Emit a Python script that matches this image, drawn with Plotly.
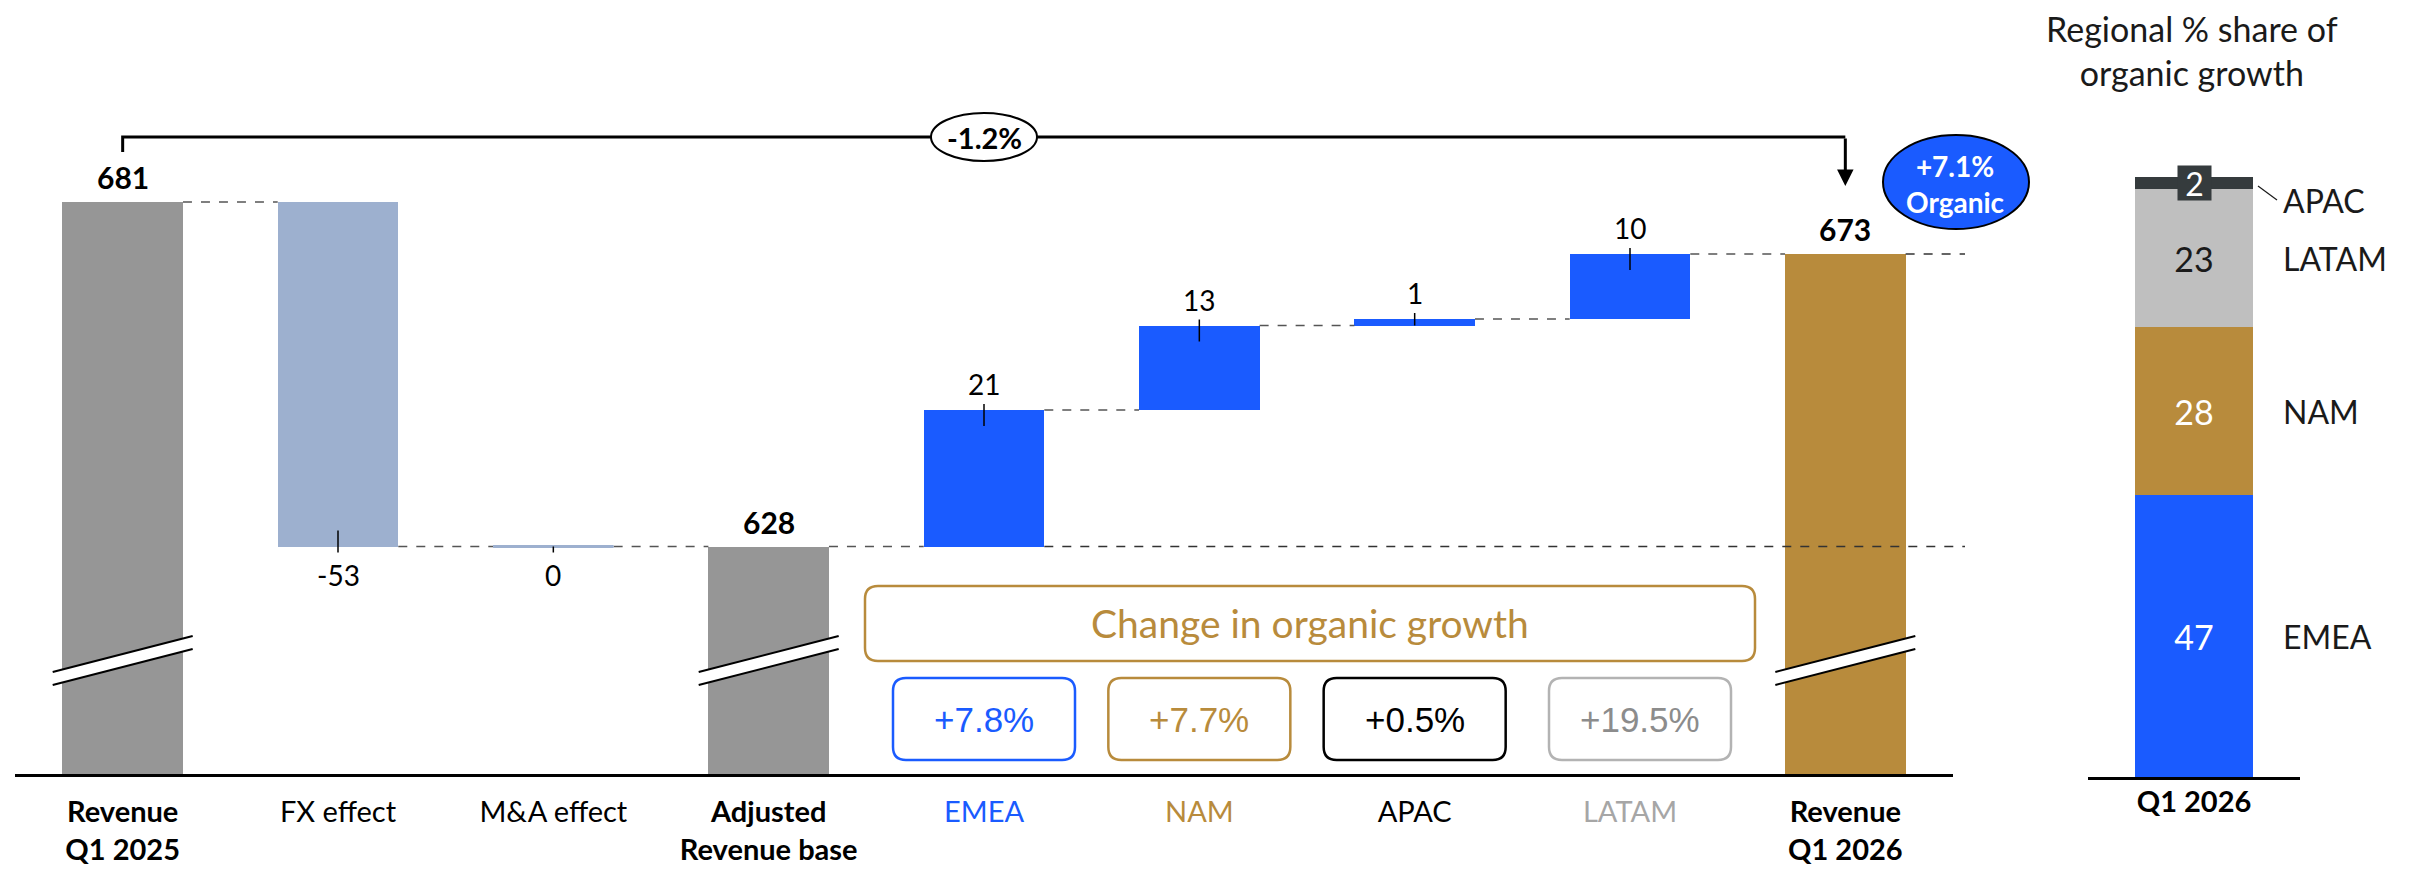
import plotly.graph_objects as go

# ---------------- data ----------------
categories = ["Revenue Q1 2025", "FX effect", "M&A effect", "Adjusted Revenue base",
              "EMEA", "NAM", "APAC", "LATAM", "Revenue Q1 2026"]
tick_labels = ["<b>Revenue</b><br><b>Q1 2025</b>", "FX effect", "M&A effect",
               "<b>Adjusted</b><br><b>Revenue base</b>",
               "<span style='color:#1A5BFF'>EMEA</span>",
               "<span style='color:#B88B3C'>NAM</span>",
               "APAC",
               "<span style='color:#A6A6A6'>LATAM</span>",
               "<b>Revenue</b><br><b>Q1 2026</b>"]
measure = ["total", "relative", "relative", "total", "relative", "relative", "relative", "relative", "total"]
values = [681, -53, 0, 628, 21, 13, 1, 10, 673]
bar_colors = ["#969696", "#9DB0CF", "#9DB0CF", "#969696",
              "#1A5BFF", "#1A5BFF", "#1A5BFF", "#1A5BFF", "#B88B3C"]

growth_regions = ["EMEA", "NAM", "APAC", "LATAM"]
growth_text = ["+7.8%", "+7.7%", "+0.5%", "+19.5%"]
growth_border = ["#1A5BFF", "#B88B3C", "#000000", "#B3B3B3"]
growth_font = ["#1A5BFF", "#B88B3C", "#000000", "#8C8C8C"]

total_change_text = "-1.2%"
organic_text = "+7.1%<br>Organic"

share_regions = ["EMEA", "NAM", "LATAM", "APAC"]
share_values = [47, 28, 23, 2]
share_colors = ["#1A5BFF", "#B88B3C", "#BFBFBF", "#353B3D"]
share_text_colors = ["white", "white", "#1A1A1A", "white"]
share_category = ["<b>Q1 2026</b>"]

# ---------------- layout constants (reference pixel space) ----------------
OFF = 8                      # page body margin
W, H = 2412 - OFF, 870 - OFF
FONT = "Lato, 'Open Sans', sans-serif"
MAIN_L, MAIN_R = 15, 1953
MAIN_BOTTOM = 774
FLOOR = 593
PPU = 6.5
MAIN_TOP_VAL = FLOOR + (MAIN_BOTTOM - OFF) / PPU
R_L, R_R = 2088, 2300
R_BOTTOM = 777
R_PPU = 6.0
R_TOP_VAL = (R_BOTTOM - OFF) / R_PPU
BAR_W = 0.56
STEP = (MAIN_R - MAIN_L) / len(categories)
BOX_DX = {"LATAM": 10}


def cat_px(i):
    return MAIN_L + (i + 0.5) * STEP


def PX(v):
    return (v - OFF) / W


def PY(v):
    return 1 - (v - OFF) / H


# waterfall geometry from data
bases, heights, tops, bottoms, ends = [], [], [], [], []
level = None
for m, v in zip(measure, values):
    if m == "total":
        b, h = FLOOR, v - FLOOR
        level = v
        tops.append(v); bottoms.append(FLOOR)
    else:
        b = level if v >= 0 else level + v
        h = abs(v)
        tops.append(b + h); bottoms.append(b)
        level = level + v
    bases.append(b); heights.append(h); ends.append(level)

x_idx = list(range(len(categories)))

fig = go.Figure()
fig.add_trace(go.Bar(x=x_idx, y=heights, base=bases, width=BAR_W,
                     marker=dict(color=bar_colors, line=dict(width=0)),
                     hoverinfo="skip", xaxis="x", yaxis="y"))

for r, v, c, tc in zip(share_regions, share_values, share_colors, share_text_colors):
    fig.add_trace(go.Bar(x=[0], y=[v], width=BAR_W, marker=dict(color=c, line=dict(width=0)),
                         text=[str(v) if v > 5 else ""], textposition="inside",
                         insidetextanchor="middle", textangle=0,
                         textfont=dict(family=FONT, size=34, color=tc),
                         hoverinfo="skip", xaxis="x2", yaxis="y2", name=r))

shapes = []
annotations = []

# connectors between bars
for i in range(len(categories) - 1):
    shapes.append(dict(type="line", xref="x", yref="y",
                       x0=i + BAR_W / 2, x1=i + 1 - BAR_W / 2, y0=ends[i], y1=ends[i],
                       line=dict(color="#555555", width=1.5, dash="dash"), layer="above"))
TAIL_END = 1965
for i in [4, 8]:
    lv = ends[3] if i == 4 else ends[8]
    shapes.append(dict(type="line", xref="paper", yref="y",
                       x0=PX(cat_px(i) + BAR_W / 2 * STEP), x1=PX(TAIL_END), y0=lv, y1=lv,
                       line=dict(color="#333333", width=1.5, dash="dash"), layer="above"))

# zero-valued bars drawn as a thin line
for i, (m, v) in enumerate(zip(measure, values)):
    if m == "relative" and v == 0:
        shapes.append(dict(type="line", xref="x", yref="y", x0=i - BAR_W / 2, x1=i + BAR_W / 2,
                           y0=ends[i], y1=ends[i], line=dict(color=bar_colors[i], width=3)))

# value labels and leader ticks
for i, (m, v) in enumerate(zip(measure, values)):
    if m == "total":
        annotations.append(dict(x=i, y=tops[i], xref="x", yref="y", text=f"<b>{v}</b>",
                                showarrow=False, xanchor="center", yanchor="middle", yshift=25,
                                font=dict(family=FONT, size=30, color="black")))
    elif v > 0:
        annotations.append(dict(x=i, y=tops[i], xref="x", yref="y", text=str(v),
                                showarrow=False, xanchor="center", yanchor="middle", yshift=26,
                                font=dict(family=FONT, size=28, color="black")))
        inside = min(16, heights[i] * PPU)
        shapes.append(dict(type="line", xref="x", yref="y", x0=i, x1=i, ysizemode="pixel",
                           yanchor=tops[i], y0=6, y1=-inside, line=dict(color="black", width=1.5)))
    else:
        annotations.append(dict(x=i, y=bottoms[i], xref="x", yref="y", text=str(v),
                                showarrow=False, xanchor="center", yanchor="middle", yshift=-28,
                                font=dict(family=FONT, size=28, color="black")))
        inside = min(16, heights[i] * PPU)
        shapes.append(dict(type="line", xref="x", yref="y", x0=i, x1=i, ysizemode="pixel",
                           yanchor=bottoms[i], y0=-6, y1=inside, line=dict(color="black", width=1.5)))

# axis-break marks on total bars
BREAK_VAL = FLOOR + (MAIN_BOTTOM - 660) / PPU
for i, m in enumerate(measure):
    if m == "total":
        shapes.append(dict(type="path", xref="x", yref="y", xsizemode="pixel", ysizemode="pixel",
                           xanchor=i, yanchor=BREAK_VAL,
                           path="M -70,-12 L 70,24 L 70,11 L -70,-25 Z",
                           fillcolor="white", line=dict(width=0), layer="above"))
        for p in ["M -70,-12 L 70,24", "M -70,-25 L 70,11"]:
            shapes.append(dict(type="path", xref="x", yref="y", xsizemode="pixel", ysizemode="pixel",
                               xanchor=i, yanchor=BREAK_VAL, path=p,
                               line=dict(color="black", width=2), layer="above"))

# bracket with total change
BRACKET_Y = values[0] + (202 - 137) / PPU
shapes.append(dict(type="path", xref="x", yref="y",
                   path=f"M 0,{BRACKET_Y - 15 / PPU} L 0,{BRACKET_Y} L {len(categories) - 1},{BRACKET_Y}",
                   line=dict(color="black", width=3), layer="above"))
annotations.append(dict(x=len(categories) - 1, y=BRACKET_Y - (186 - 137) / PPU, xref="x", yref="y",
                        ax=len(categories) - 1, ay=BRACKET_Y, axref="x", ayref="y", text="",
                        showarrow=True, arrowhead=2, arrowwidth=3, arrowsize=1.1, arrowcolor="black"))
MID = (len(categories) - 1) / 2
shapes.append(dict(type="circle", xref="x", yref="y", xsizemode="pixel", ysizemode="pixel",
                   xanchor=MID, yanchor=BRACKET_Y, x0=-53, x1=53, y0=-24, y1=24,
                   fillcolor="white", line=dict(color="black", width=2), layer="above"))
annotations.append(dict(x=MID, y=BRACKET_Y, xref="x", yref="y", text=f"<b>{total_change_text}</b>",
                        showarrow=False, xanchor="center", yanchor="middle",
                        font=dict(family=FONT, size=29, color="black")))

# organic growth arrow and bubble
ARROW_PX = 1956
ARROW_X = (ARROW_PX - MAIN_L) / STEP - 0.5
annotations.append(dict(x=ARROW_X, y=values[-1], xref="x", yref="y", ax=ARROW_X, ay=values[3],
                        axref="x", ayref="y", text="", showarrow=True, arrowhead=2,
                        arrowwidth=6, arrowsize=0.6, arrowcolor="black"))
BUB_CY = 182
shapes.append(dict(type="circle", xref="paper", yref="paper",
                   x0=PX(ARROW_PX - 73), x1=PX(ARROW_PX + 73), y0=PY(BUB_CY + 47), y1=PY(BUB_CY - 47),
                   fillcolor="#1A5BFF", line=dict(color="black", width=2), layer="above"))
annotations.append(dict(x=PX(ARROW_PX), y=PY(BUB_CY + 2), xref="paper", yref="paper",
                        xanchor="center", yanchor="middle",
                        text=f"<b>{organic_text}</b>", showarrow=False,
                        font=dict(family=FONT, size=28, color="white")))


def rrect(x0, y0, x1, y1, r):
    return (f"M {PX(x0 + r)},{PY(y0)} L {PX(x1 - r)},{PY(y0)} Q {PX(x1)},{PY(y0)} {PX(x1)},{PY(y0 + r)} "
            f"L {PX(x1)},{PY(y1 - r)} Q {PX(x1)},{PY(y1)} {PX(x1 - r)},{PY(y1)} "
            f"L {PX(x0 + r)},{PY(y1)} Q {PX(x0)},{PY(y1)} {PX(x0)},{PY(y1 - r)} "
            f"L {PX(x0)},{PY(y0 + r)} Q {PX(x0)},{PY(y0)} {PX(x0 + r)},{PY(y0)} Z")


# change in organic growth boxes
shapes.append(dict(type="path", xref="paper", yref="paper", path=rrect(865, 586, 1755, 661, 13),
                   line=dict(color="#B88B3C", width=2.5), fillcolor="rgba(0,0,0,0)"))
annotations.append(dict(x=PX(1310), y=PY(623), xref="paper", yref="paper",
                        xanchor="center", yanchor="middle",
                        text="Change in organic growth", showarrow=False,
                        font=dict(family=FONT, size=39, color="#B88B3C")))
for reg, txt, bc, fc in zip(growth_regions, growth_text, growth_border, growth_font):
    i = categories.index(reg)
    cx = cat_px(i) + BOX_DX.get(reg, 0)
    shapes.append(dict(type="path", xref="paper", yref="paper",
                       path=rrect(cx - 91, 678, cx + 91, 760, 13),
                       line=dict(color=bc, width=2.5), fillcolor="rgba(0,0,0,0)"))
    annotations.append(dict(x=PX(cx), y=PY(719), xref="paper", yref="paper", text=txt, showarrow=False,
                            xanchor="center", yanchor="middle",
                            font=dict(family="'Liberation Sans', Arial, sans-serif", size=35, color=fc)))

# right panel: regional share
annotations.append(dict(x=PX(2192), y=PY(51), xref="paper", yref="paper",
                        xanchor="center", yanchor="middle",
                        text="Regional % share of<br>organic growth", showarrow=False,
                        font=dict(family=FONT, size=34, color="#1A1A1A")))
cum = 0
for r, v in zip(share_regions, share_values):
    center = cum + v / 2
    cum += v
    shift = -17 if v < 5 else 0
    annotations.append(dict(x=PX(2281), y=center, xref="paper", yref="y2", xanchor="left",
                            yanchor="middle", text=r, showarrow=False, yshift=shift,
                            font=dict(family=FONT, size=32, color="#1A1A1A")))
    if v < 5:
        annotations.append(dict(x=0, y=center, xref="x2", yref="y2", text=str(v), showarrow=False,
                                xanchor="center", yanchor="middle",
                                bgcolor="#353B3D", width=31, height=32,
                                font=dict(family=FONT, size=32, color="white")))
        shapes.append(dict(type="line", xref="paper", yref="y2", ysizemode="pixel", yanchor=center,
                           x0=PX(2258), x1=PX(2277), y0=-3, y1=-17,
                           line=dict(color="#1A1A1A", width=1.2)))

fig.update_layout(
    width=W, height=H, margin=dict(l=0, r=0, t=0, b=0, autoexpand=False),
    paper_bgcolor="white", plot_bgcolor="white", showlegend=False,
    barmode="stack", font=dict(family=FONT, color="black"),
    xaxis=dict(domain=[PX(MAIN_L), PX(MAIN_R)], range=[-0.5, len(categories) - 0.5],
               tickvals=x_idx, ticktext=tick_labels, showline=True, linecolor="black", linewidth=3,
               ticks="", showgrid=False, zeroline=False, ticklabelstandoff=10, automargin=False,
               tickfont=dict(family=FONT, size=29, color="black"), anchor="y", fixedrange=True),
    yaxis=dict(domain=[PY(MAIN_BOTTOM), 1], range=[FLOOR, MAIN_TOP_VAL], visible=False,
               anchor="x", fixedrange=True, automargin=False),
    xaxis2=dict(domain=[PX(R_L), PX(R_R)], range=[-0.5, 0.5], tickvals=[0], ticktext=share_category,
                showline=True, linecolor="black", linewidth=2.5, ticks="", showgrid=False,
                zeroline=False, ticklabelstandoff=-3, automargin=False,
                tickfont=dict(family=FONT, size=29, color="black"), anchor="y2", fixedrange=True),
    yaxis2=dict(domain=[PY(R_BOTTOM), 1], range=[0, R_TOP_VAL], visible=False, anchor="x2",
                fixedrange=True, automargin=False),
    shapes=shapes, annotations=annotations,
)

fig.write_html("out.html")
